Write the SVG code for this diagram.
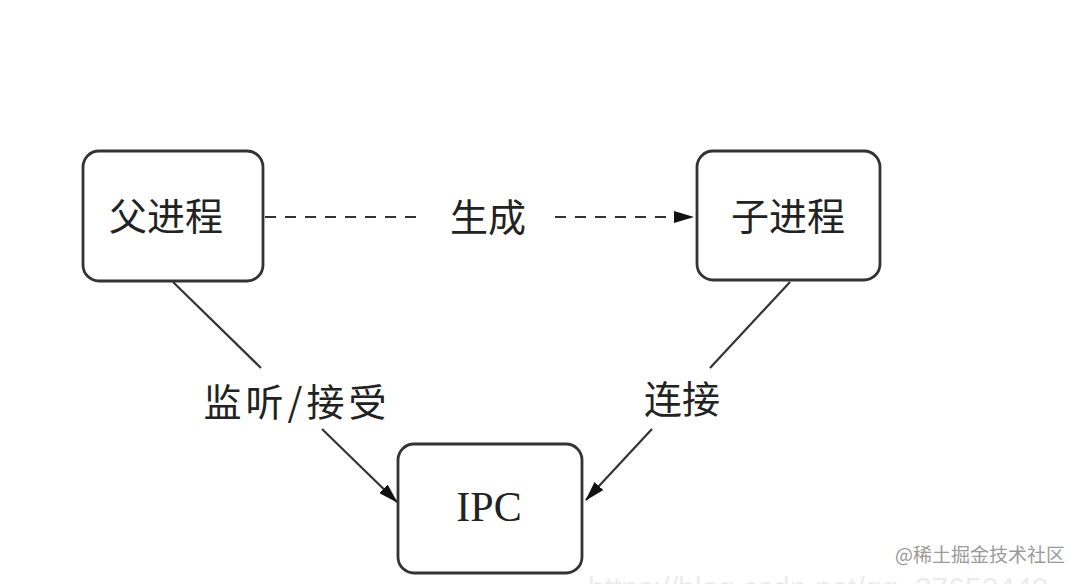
<svg xmlns="http://www.w3.org/2000/svg" width="1074" height="584" viewBox="0 0 1074 584">
<defs>
<marker id="arr" markerWidth="20" markerHeight="12" refX="19" refY="6" orient="auto" markerUnits="userSpaceOnUse">
<path d="M0,0 L20,6 L0,12 Z" fill="#111"/>
</marker>
<style>
.box{fill:#fff;stroke:#333;stroke-width:2.8}
.cn{font-family:"Noto Sans CJK SC","Noto Sans",sans-serif;font-size:38px;fill:#222;text-anchor:middle}
.en{font-family:"Liberation Serif",serif;font-size:42px;fill:#222;text-anchor:middle}
.ln{stroke:#333;stroke-width:2.2;fill:none}
.dash{stroke-dasharray:11 9}
.wm{font-family:"Noto Sans CJK SC","Noto Sans",sans-serif;font-size:19px;fill:#9a9a9a}
</style>
</defs>
<rect width="1074" height="584" fill="#fff"/>
<g id="connectors">
<line class="ln dash" x1="265" y1="217" x2="420" y2="217"/>
<line class="ln dash" x1="555" y1="217" x2="693" y2="217" marker-end="url(#arr)"/>
<line class="ln" x1="173" y1="282" x2="261" y2="368"/>
<line class="ln" x1="322" y1="429" x2="397" y2="502" marker-end="url(#arr)"/>
<line class="ln" x1="790" y1="282" x2="710" y2="368"/>
<line class="ln" x1="652" y1="429" x2="586" y2="500" marker-end="url(#arr)"/>
<text class="cn" x="488" y="231">生成</text>
<text class="cn" x="297" y="416" letter-spacing="4">监听/接受</text>
<text class="cn" x="682" y="413">连接</text>
</g>
<g id="parent">
<rect class="box" x="83" y="151" width="180" height="130" rx="16"/>
<text class="cn" x="166" y="230" font-size="40">父进程</text>
</g>
<g id="child">
<rect class="box" x="697" y="151" width="183" height="129" rx="16"/>
<text class="cn" x="788" y="230" font-size="40">子进程</text>
</g>
<g id="ipc">
<rect class="box" x="398" y="444" width="184" height="129" rx="16"/>
<text class="en" x="489" y="521">IPC</text>
</g>
<text class="wm" x="895" y="562">@稀土掘金技术社区</text>
<text x="588" y="598" font-family="Liberation Sans, sans-serif" font-size="30" fill="#ececec">https://blog.csdn.net/qq_37652440</text>
</svg>
